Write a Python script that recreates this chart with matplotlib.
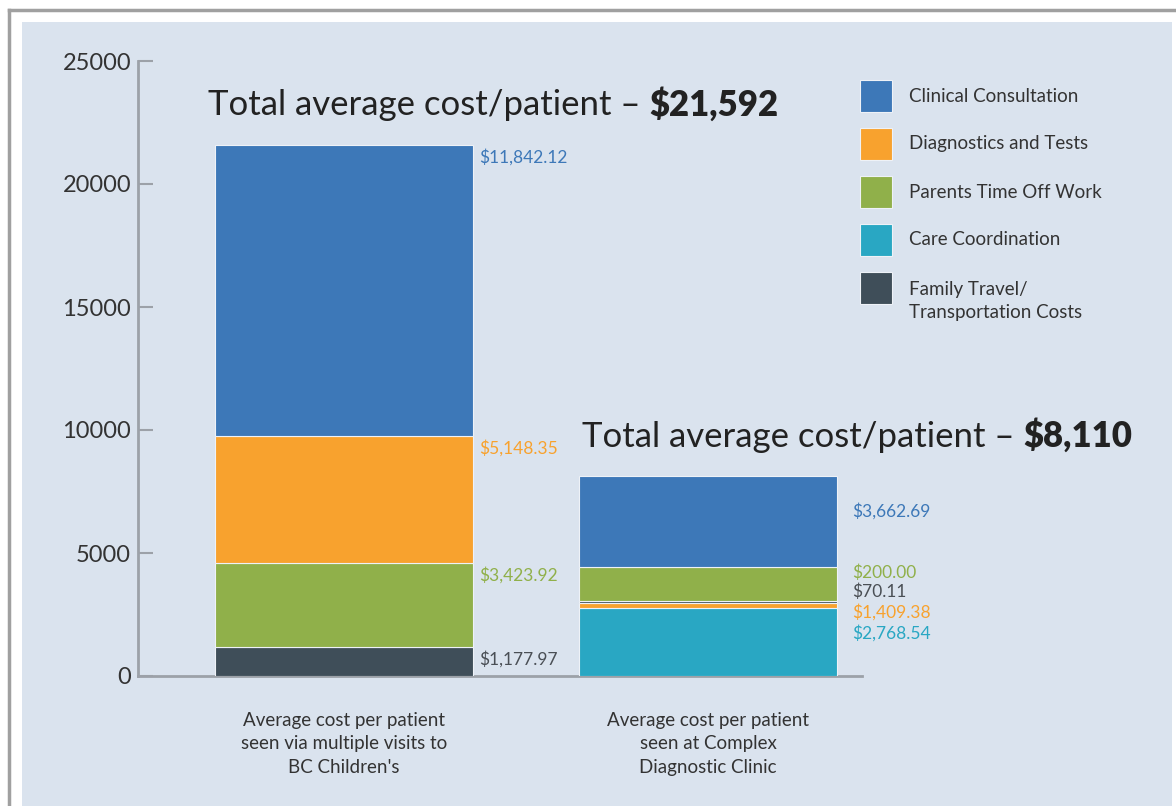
import matplotlib.pyplot as plt
from matplotlib.patches import Rectangle
from matplotlib.lines import Line2D

plt.rcParams['font.family'] = ['Lato', 'DejaVu Sans']

# data (bottom to top stacks)
categories = ["Average cost per patient\nseen via multiple visits to\nBC Children's",
              "Average cost per patient\nseen at Complex\nDiagnostic Clinic"]
series = ["Clinical Consultation", "Diagnostics and Tests", "Parents Time Off Work",
          "Care Coordination", "Family Travel/\nTransportation Costs"]
colors = ["#3d78b8", "#f8a22e", "#90b04a", "#29a7c3", "#3f4e59"]

bar1_order = [4, 2, 1, 0]
bar1_values = [1177.97, 3423.92, 5148.35, 11842.12]
bar1_labels = ["$1,177.97", "$3,423.92", "$5,148.35", "$11,842.12"]

bar2_order = [3, 1, 4, 2, 0]
bar2_values = [2768.54, 200.00, 70.11, 1409.38, 3662.69]
bar2_labels = ["$3,662.69", "$200.00", "$70.11", "$1,409.38", "$2,768.54"]
bar2_label_colors = [0, 2, 4, 1, 3]

totals = ["$21,592", "$8,110"]

W, H = 1176, 806
fig = plt.figure(figsize=(W / 100, H / 100), dpi=100)
fig.patch.set_facecolor('white')

# panel background + frame
fig.add_artist(Rectangle((22 / W, 0), (1172 - 22) / W, 1 - 22 / H, transform=fig.transFigure,
                         facecolor='#dae3ee', edgecolor='none', zorder=0))
fig.add_artist(Line2D([9 / W, 9 / W], [0, 1 - 10 / H], transform=fig.transFigure, color='#a0a0a0', lw=2.5))
fig.add_artist(Line2D([9 / W, 1], [1 - 10 / H, 1 - 10 / H], transform=fig.transFigure, color='#a0a0a0', lw=2.5))

ax = fig.add_axes([138 / W, 1 - 676 / H, (862 - 138) / W, (676 - 61) / H])
ax.set_facecolor('none')

width = 0.71
edge = '#eef2f7'
dark_txt = '#4a4f55'

bottom = 0
for idx, v, lab in zip(bar1_order, bar1_values, bar1_labels):
    ax.bar(0, v, width, bottom=bottom, color=colors[idx], edgecolor=edge, linewidth=0.8, zorder=3)
    ax.text(0 + width / 2 + 0.015, bottom + v - 150, lab.replace('$', r'\$'),
            color=colors[idx] if idx != 4 else dark_txt, fontsize=12.5, va='top', ha='left')
    bottom += v
total1 = bottom

bottom = 0
for idx, v in zip(bar2_order, bar2_values):
    ax.bar(1, v, width, bottom=bottom, color=colors[idx], edgecolor=edge, linewidth=0.8, zorder=3)
    bottom += v
total2 = bottom

# labels beside bar 2, listed top to bottom
label_y = [6707, 4187, 3415, 2602, 1748]
for txt, ci, y in zip(bar2_labels, bar2_label_colors, label_y):
    ax.text(1 + width / 2 + 0.04, y, txt.replace('$', r'\$'),
            color=colors[ci] if ci != 4 else dark_txt, fontsize=12.5, va='center', ha='left')

ax.set_xlim(-0.566, 1.423)
ax.set_ylim(0, 25000)
ax.set_yticks([0, 5000, 10000, 15000, 20000, 25000])
ax.set_xticks([0, 1])
ax.set_xticklabels(categories, fontsize=13.5, color='#333333', linespacing=1.45)
for s in ['top', 'right']:
    ax.spines[s].set_visible(False)
for s in ['left', 'bottom']:
    ax.spines[s].set_color('#9ca1a8')
    ax.spines[s].set_linewidth(2)
ax.tick_params(axis='y', direction='in', length=11, width=1.5, color='#9ca1a8',
               labelsize=17, labelcolor='#333333', pad=5)
ax.tick_params(axis='x', length=0, pad=26)

# totals above bars
for x0, top, tot, dx in [(0, total1, totals[0], -0.02), (1, total2, totals[1], 0.008)]:
    t1 = ax.annotate("Total average cost/patient \u2013 ", xy=(x0 - width / 2 + dx, top + 1200),
                     fontsize=25, color='#222222', va='baseline', ha='left')
    ax.annotate(tot.replace('$', r'\$'), xy=(1, 0), xycoords=t1, fontsize=25, fontweight='heavy',
                color='#222222', va='bottom', ha='left')

# legend
for i, name in enumerate(series):
    y_top = 80 + 48 * i
    fig.add_artist(Rectangle((860 / W, 1 - (y_top + 32) / H), 32 / W, 32 / H, transform=fig.transFigure,
                             facecolor=colors[i], edgecolor='#eef2f7', lw=0.8))
    if '\n' in name:
        fig.text(909 / W, 1 - (y_top + 9) / H, name, fontsize=13.5, color='#333333', va='top',
                 ha='left', linespacing=1.45)
    else:
        fig.text(909 / W, 1 - (y_top + 16) / H, name, fontsize=13.5, color='#333333', va='center',
                 ha='left')

fig.savefig('out.png', dpi=100)
